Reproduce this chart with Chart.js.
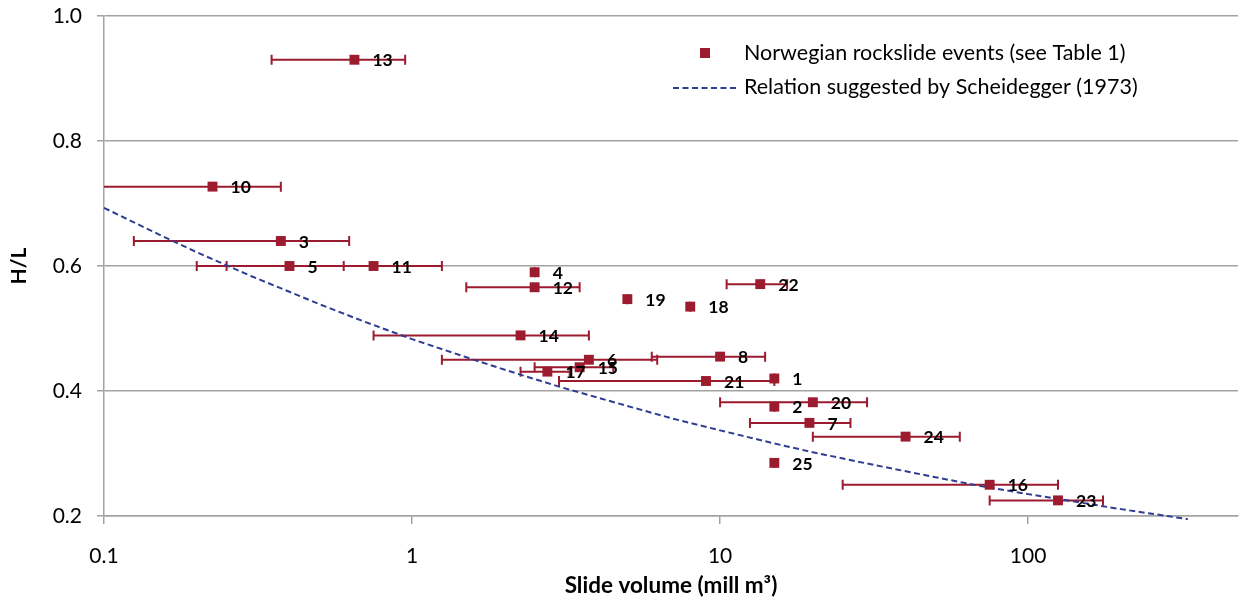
<!DOCTYPE html>
<html>
<head>
<meta charset="utf-8">
<title>H/L vs slide volume</title>
<script src="https://cdn.jsdelivr.net/npm/chart.js@4/dist/chart.umd.min.js"></script>
<style>
  html, body { margin: 0; padding: 0; background: #fff; overflow: hidden; }
  #wrap { width: 1245px; height: 599px; position: relative; }
</style>
</head>
<body>
<div id="wrap"><canvas id="chart"></canvas></div>
<script>
// ===========================
// DATA
// ===========================
const eventIds = ['13', '10', '3', '5', '11', '4', '12', '19', '18', '22', '14', '6', '8',
                  '15', '17', '21', '1', '20', '2', '7', '24', '25', '16', '23'];
const volumes  = [0.65, 0.225, 0.375, 0.4, 0.75, 2.5, 2.5, 5, 8, 13.5, 2.25, 3.75, 10,
                  3.5, 2.75, 9, 15, 20, 15, 19.5, 40, 15, 75, 125];
const hlRatio  = [0.93, 0.727, 0.64, 0.6, 0.6, 0.59, 0.566, 0.547, 0.535, 0.571, 0.489, 0.45, 0.455,
                  0.438, 0.431, 0.416, 0.42, 0.382, 0.375, 0.349, 0.327, 0.285, 0.25, 0.225];
const volLow   = [0.35, 0.05, 0.125, 0.2, 0.25, 2.5, 1.5, 5, 8, 10.5, 0.75, 1.25, 6,
                  2.5, 2.25, 3, 15, 10, 15, 12.5, 20, 15, 25, 75];
const volHigh  = [0.95, 0.375, 0.625, 0.6, 1.25, 2.5, 3.5, 5, 8, 16.5, 3.75, 6.25, 14,
                  4.5, 3.25, 15, 15, 30, 15, 26.5, 60, 15, 125, 175];

// Scheidegger (1973) relation
const schVolume = [0.1, 0.15, 0.2, 0.3, 0.5, 0.7, 1, 1.5, 2, 3, 5, 7, 10, 15, 20, 30, 50, 70, 100, 150, 200, 330];
const schHL     = [0.693, 0.651, 0.622, 0.584, 0.539, 0.511, 0.483, 0.454, 0.434, 0.407, 0.376, 0.356,
                   0.337, 0.316, 0.302, 0.284, 0.262, 0.248, 0.235, 0.221, 0.211, 0.195];

const xTicks = [0.1, 1, 10, 100];
const yTicks = [0.2, 0.4, 0.6, 0.8, 1.0];

const RED = '#9c1b2e';
const BLUE = '#2f3d93';
const GRID = '#a3a3a3';
const FONT = 'Lato';

// ===========================
// PLUGINS
// ===========================

// horizontal error bars with end caps
const errorBars = {
  id: 'errorBars',
  beforeDatasetsDraw(chart) {
    const { ctx, chartArea, scales } = chart;
    ctx.save();
    ctx.beginPath();
    ctx.rect(chartArea.left, chartArea.top - 10, chartArea.right - chartArea.left, chartArea.bottom - chartArea.top + 20);
    ctx.clip();
    ctx.strokeStyle = RED;
    ctx.lineWidth = 2;
    for (let i = 0; i < volumes.length; i++) {
      const y = scales.y.getPixelForValue(hlRatio[i]);
      const x1 = scales.x.getPixelForValue(volLow[i]);
      const x2 = scales.x.getPixelForValue(volHigh[i]);
      ctx.beginPath();
      ctx.moveTo(x1, y); ctx.lineTo(x2, y);
      ctx.moveTo(x1, y - 5); ctx.lineTo(x1, y + 5);
      ctx.moveTo(x2, y - 5); ctx.lineTo(x2, y + 5);
      ctx.stroke();
    }
    ctx.restore();
  }
};

// event number next to each marker
const pointLabels = {
  id: 'pointLabels',
  afterDatasetsDraw(chart) {
    const { ctx, scales } = chart;
    ctx.save();
    ctx.font = `bold 17.5px ${FONT}`;
    ctx.fillStyle = '#000';
    ctx.textAlign = 'left';
    ctx.textBaseline = 'middle';
    for (let i = 0; i < volumes.length; i++) {
      const x = scales.x.getPixelForValue(volumes[i]);
      const y = scales.y.getPixelForValue(hlRatio[i]);
      ctx.fillText(eventIds[i], x + 18, y + 1);
    }
    ctx.restore();
  }
};

// legend inside the plot, top right
const innerLegend = {
  id: 'innerLegend',
  afterDraw(chart) {
    const ctx = chart.ctx;
    ctx.save();
    ctx.font = `21.5px ${FONT}`;
    ctx.textBaseline = 'middle';
    ctx.textAlign = 'left';

    ctx.fillStyle = RED;
    ctx.fillRect(700, 48, 10, 10);
    ctx.fillStyle = '#000';
    ctx.fillText('Norwegian rockslide events (see Table 1)', 744, 53);

    ctx.strokeStyle = BLUE;
    ctx.lineWidth = 2;
    ctx.setLineDash([6, 3.5]);
    ctx.beginPath();
    ctx.moveTo(673, 88); ctx.lineTo(737, 88);
    ctx.stroke();
    ctx.setLineDash([]);
    ctx.fillText('Relation suggested by Scheidegger (1973)', 744, 87);
    ctx.restore();
  }
};

// ===========================
// CHART
// ===========================
const ctx = document.getElementById('chart');

new Chart(ctx, {
  type: 'scatter',
  data: {
    datasets: [
      {
        label: 'Relation suggested by Scheidegger (1973)',
        data: schVolume.map((v, i) => ({ x: v, y: schHL[i] })),
        showLine: true,
        borderColor: BLUE,
        borderWidth: 2,
        borderDash: [6, 3.5],
        pointRadius: 0,
        fill: false,
        clip: 4,
        order: 2
      },
      {
        label: 'Norwegian rockslide events (see Table 1)',
        data: volumes.map((v, i) => ({ x: v, y: hlRatio[i] })),
        pointStyle: 'rect',
        pointRadius: 7,
        backgroundColor: RED,
        borderColor: RED,
        borderWidth: 0,
        order: 1
      }
    ]
  },
  options: {
    responsive: true,
    maintainAspectRatio: false,
    animation: false,
    layout: { padding: { top: 16, right: 0, bottom: 0, left: 0 } },
    plugins: {
      legend: { display: false },
      tooltip: { enabled: false }
    },
    scales: {
      x: {
        type: 'logarithmic',
        min: 0.1,
        max: 480,
        afterBuildTicks(scale) {
          scale.ticks = xTicks.map(v => ({ value: v }));
        },
        afterFit(scale) {
          scale.height = 83;
          scale.paddingLeft = 0;
          scale.paddingRight = 0;
        },
        ticks: {
          color: '#000',
          font: { family: FONT, size: 21 },
          padding: 20,
          maxRotation: 0,
          autoSkip: false,
          callback: value => String(value)
        },
        grid: {
          drawOnChartArea: false,
          drawTicks: true,
          tickLength: 8,
          color: GRID,
          lineWidth: 1.5
        },
        border: { color: GRID, width: 1.5 },
        title: {
          display: true,
          text: 'Slide volume (mill m³)',
          color: '#000',
          font: { family: FONT, size: 22.5, weight: 'bold' },
          padding: { top: 0, bottom: 0 }
        }
      },
      y: {
        type: 'linear',
        min: 0.2,
        max: 1.0,
        afterBuildTicks(scale) {
          scale.ticks = yTicks.map(v => ({ value: v }));
        },
        afterFit(scale) {
          scale.width = 104;
          scale.paddingTop = 0;
          scale.paddingBottom = 0;
        },
        ticks: {
          color: '#000',
          font: { family: FONT, size: 21 },
          padding: 15,
          callback: value => value.toFixed(1)
        },
        grid: {
          color: GRID,
          lineWidth: 1.5,
          tickLength: 7
        },
        border: { color: GRID, width: 1.5 },
        title: {
          display: true,
          text: 'H/L',
          color: '#000',
          font: { family: FONT, size: 21, weight: 'bold' },
          padding: { top: 7, bottom: 0 }
        }
      }
    }
  },
  plugins: [errorBars, pointLabels, innerLegend]
});
</script>
</body>
</html>
